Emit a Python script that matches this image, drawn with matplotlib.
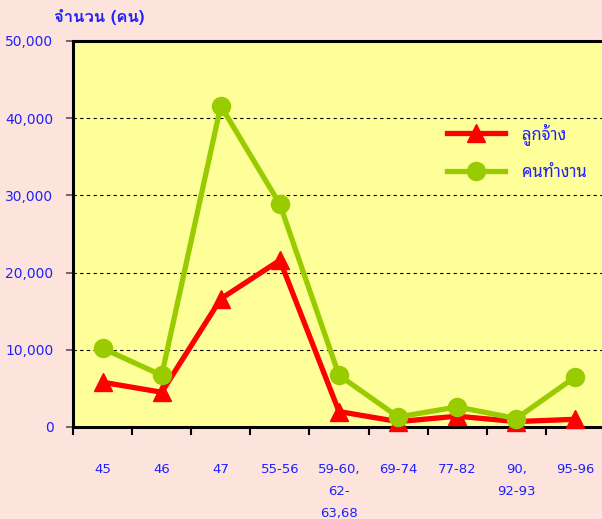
import matplotlib
matplotlib.use("Agg")
import matplotlib.pyplot as plt
import numpy as np
from matplotlib.ticker import FuncFormatter

categories = ["45", "46", "47", "55-56", "59-60,\n62-\n63,68", "69-74", "77-82", "90,\n92-93", "95-96"]
employees = [5800, 4500, 16600, 21600, 2000, 700, 1400, 700, 1000]
workers = [10200, 6700, 41600, 28850, 6700, 1300, 2600, 1100, 6500]

thai_title = ["Loma", "Noto Sans Thai Looped", "DejaVu Sans"]
thai = ["Noto Sans Thai Looped", "DejaVu Sans"]
blue = "#2020FF"

fig = plt.figure(figsize=(6.02, 5.19), dpi=100, facecolor="#FCE4DC")
ax = fig.add_axes([73 / 602, 1 - 427 / 519, 532 / 602, 386 / 519])
ax.set_facecolor("#FFFF99")

x = np.arange(len(categories))
ax.plot(x, employees, color="#FF0000", lw=3.8, marker="^", ms=13, label="ลูกจ้าง", clip_on=False, zorder=3)
ax.plot(x, workers, color="#99CC00", lw=3.8, marker="o", ms=13, label="คนทำงาน", clip_on=False, zorder=4)

ax.set_xlim(-0.5, len(categories) - 0.5)
ax.set_ylim(0, 50000)
ax.set_yticks(np.arange(0, 50001, 10000))
ax.yaxis.set_major_formatter(FuncFormatter(lambda v, p: f"{int(v):,}"))
ax.grid(axis="y", color="black", linestyle=(0, (3, 3)), linewidth=0.8)
ax.set_axisbelow(True)

ax.set_xticks(x)
ax.set_xticklabels(categories, linespacing=1.9, va="top")
ax.set_xticks(np.arange(-0.5, len(categories), 1), minor=True)
ax.tick_params(axis="x", which="major", length=0, pad=26, labelsize=9.5, labelcolor=blue)
ax.tick_params(axis="x", which="minor", length=6, width=1.5, color="black", direction="out")
ax.tick_params(axis="y", length=5, width=1.2, color="#555555", pad=9, labelsize=10, labelcolor=blue)

for side in ["left", "bottom", "top"]:
    ax.spines[side].set_linewidth(2.2)
    ax.spines[side].set_color("black")
ax.spines["right"].set_visible(False)

fig.text(54 / 602, 1 - 17 / 519, "จำนวน (คน)", color=blue, fontsize=12, fontweight="bold",
         family=thai_title, ha="left", va="center")

leg = ax.legend(loc="center left", bbox_to_anchor=(447 / 602, 1 - 152 / 519),
                bbox_transform=fig.transFigure, frameon=False, borderpad=0, borderaxespad=0,
                handlelength=3.5, handletextpad=1.0, labelspacing=1.2,
                prop={"family": thai, "size": 12})
for t in leg.get_texts():
    t.set_color(blue)

fig.savefig("out.png", facecolor=fig.get_facecolor())
